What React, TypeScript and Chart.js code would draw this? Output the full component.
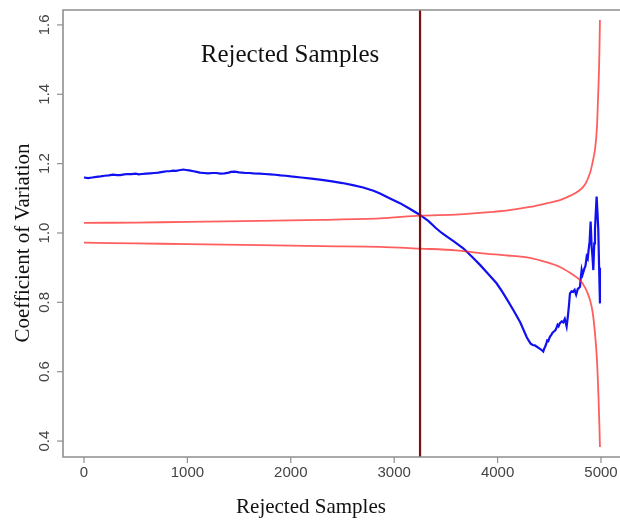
import React, { useEffect, useRef } from "react";
import { Chart, registerables } from "chart.js";

Chart.register(...registerables);

// ---- data ----
const blueX = [0, 40, 80, 120, 160, 200, 240, 280, 320, 350, 390, 420, 460, 500, 530, 560, 600, 640, 680, 720, 760, 800, 830, 860, 890, 920, 960, 1000, 1030, 1060, 1090, 1120, 1160, 1200, 1240, 1280, 1320, 1360, 1400, 1420, 1460, 1500, 1530, 1560, 1600, 1640, 1700, 1750, 1800, 1850, 1900, 1950, 2000, 2100, 2200, 2300, 2400, 2500, 2600, 2700, 2800, 2863, 2950, 3056, 3150, 3250, 3330, 3400, 3460, 3507, 3580, 3668, 3750, 3830, 3910, 3990, 4040, 4088, 4152, 4220, 4281, 4300, 4320, 4340, 4360, 4380, 4400, 4420, 4442, 4450, 4460, 4470, 4480, 4490, 4507, 4520, 4530, 4545, 4560, 4570, 4580, 4590, 4603, 4620, 4635, 4650, 4668, 4680, 4690, 4700, 4715, 4730, 4745, 4760, 4775, 4797, 4805, 4813, 4822, 4830, 4840, 4850, 4862, 4872, 4880, 4890, 4900, 4910, 4918, 4926, 4935, 4942, 4950, 4958, 4966, 4974, 4982, 4990];
const blueY = [1.160, 1.158, 1.160, 1.162, 1.163, 1.165, 1.166, 1.168, 1.167, 1.167, 1.169, 1.170, 1.170, 1.171, 1.169, 1.170, 1.171, 1.172, 1.173, 1.174, 1.176, 1.178, 1.178, 1.180, 1.179, 1.181, 1.183, 1.181, 1.180, 1.178, 1.176, 1.174, 1.173, 1.172, 1.173, 1.173, 1.171, 1.172, 1.174, 1.176, 1.177, 1.175, 1.174, 1.173, 1.173, 1.172, 1.171, 1.170, 1.169, 1.168, 1.166, 1.165, 1.163, 1.160, 1.157, 1.153, 1.149, 1.144, 1.138, 1.131, 1.122, 1.114, 1.101, 1.086, 1.070, 1.052, 1.035, 1.015, 1.000, 0.990, 0.975, 0.956, 0.932, 0.908, 0.882, 0.855, 0.833, 0.810, 0.778, 0.742, 0.700, 0.690, 0.681, 0.677, 0.676, 0.672, 0.668, 0.664, 0.658, 0.666, 0.672, 0.680, 0.690, 0.688, 0.701, 0.706, 0.712, 0.716, 0.720, 0.727, 0.735, 0.731, 0.740, 0.745, 0.742, 0.752, 0.730, 0.760, 0.790, 0.826, 0.832, 0.830, 0.836, 0.822, 0.838, 0.845, 0.872, 0.893, 0.880, 0.888, 0.898, 0.905, 0.932, 0.926, 0.950, 0.975, 1.033, 0.960, 0.930, 0.893, 0.970, 1.009, 1.060, 1.105, 1.060, 1.009, 0.900, 0.797];

const bandX = [0, 500, 1000, 1700, 2300, 2863, 3250, 3600, 3830, 4100, 4313, 4480, 4603, 4700, 4797, 4850, 4894, 4920, 4942, 4960, 4971, 4980, 4986, 4990];
const upperY = [1.029, 1.030, 1.032, 1.035, 1.038, 1.042, 1.050, 1.053, 1.058, 1.065, 1.075, 1.086, 1.095, 1.107, 1.124, 1.142, 1.173, 1.205, 1.240, 1.300, 1.384, 1.460, 1.540, 1.614];
const lowerY = [0.972, 0.970, 0.968, 0.965, 0.962, 0.960, 0.955, 0.950, 0.942, 0.935, 0.928, 0.915, 0.902, 0.885, 0.864, 0.840, 0.807, 0.770, 0.711, 0.640, 0.567, 0.490, 0.430, 0.383];

const rejectX = 3250;
const xTicks = [0, 1000, 2000, 3000, 4000, 5000];
const yTicks = [0.4, 0.6, 0.8, 1.0, 1.2, 1.4, 1.6];
const xTickLabels = ["0", "1000", "2000", "3000", "4000", "5000"];
const yTickLabels = ["0.4", "0.6", "0.8", "1.0", "1.2", "1.4", "1.6"];
const xTitle = "Rejected Samples";
const yTitle = "Coefficient of Variation";
const annotationText = "Rejected Samples";

const zip = (xs: number[], ys: number[]) => xs.map((x, i) => ({ x, y: ys[i] }));

const decorPlugin = {
  id: "decor",
  afterDatasetsDraw(chart: any) {
    const { ctx, chartArea: a, scales } = chart;
    const xs = scales.x;
    const ys = scales.y;
    ctx.save();
    // vertical rejection line
    const lx = xs.getPixelForValue(rejectX);
    ctx.strokeStyle = "#7a0f0f";
    ctx.lineWidth = 2.2;
    ctx.beginPath();
    ctx.moveTo(lx, a.top);
    ctx.lineTo(lx, a.bottom);
    ctx.stroke();

    // box
    ctx.strokeStyle = "#8f8f8f";
    ctx.lineWidth = 1.6;
    ctx.beginPath();
    ctx.moveTo(a.right + 2, a.top);
    ctx.lineTo(a.left, a.top);
    ctx.lineTo(a.left, a.bottom);
    ctx.lineTo(a.right + 2, a.bottom);
    ctx.stroke();

    // y ticks
    ctx.fillStyle = "#444";
    ctx.font = "15px 'Liberation Sans', Arial, sans-serif";
    ctx.lineWidth = 1.2;
    yTicks.forEach((v, i) => {
      const py = ys.getPixelForValue(v);
      ctx.beginPath();
      ctx.moveTo(a.left - 6, py);
      ctx.lineTo(a.left, py);
      ctx.stroke();
      ctx.save();
      ctx.translate(45, py);
      ctx.rotate(-Math.PI / 2);
      ctx.textAlign = "center";
      ctx.textBaseline = "middle";
      ctx.fillText(yTickLabels[i], 0, 0);
      ctx.restore();
    });
    // x ticks
    xTicks.forEach((v, i) => {
      const px = xs.getPixelForValue(v);
      ctx.beginPath();
      ctx.moveTo(px, a.bottom);
      ctx.lineTo(px, a.bottom + 6);
      ctx.stroke();
      ctx.textAlign = "center";
      ctx.textBaseline = "middle";
      ctx.fillText(xTickLabels[i], px, a.bottom + 16);
    });

    // titles
    ctx.fillStyle = "#111";
    ctx.font = "21px 'Liberation Serif', 'Times New Roman', serif";
    ctx.textAlign = "center";
    ctx.textBaseline = "middle";
    ctx.fillText(xTitle, 311, 507);
    ctx.save();
    ctx.translate(23, 243);
    ctx.rotate(-Math.PI / 2);
    ctx.fillText(yTitle, 0, 0);
    ctx.restore();

    ctx.font = "25px 'Liberation Serif', 'Times New Roman', serif";
    ctx.textBaseline = "alphabetic";
    ctx.fillText(annotationText, 290, 62);
    ctx.restore();
  },
};

export default function App() {
  const ref = useRef<HTMLCanvasElement | null>(null);
  useEffect(() => {
    if (!ref.current) return;
    const chart = new Chart(ref.current, {
      type: "line",
      data: {
        datasets: [
          {
            label: "upper",
            data: zip(bandX, upperY),
            borderColor: "rgba(255,40,40,0.75)",
            borderWidth: 1.8,
            pointRadius: 0,
            tension: 0.3,
          },
          {
            label: "lower",
            data: zip(bandX, lowerY),
            borderColor: "rgba(255,40,40,0.75)",
            borderWidth: 1.8,
            pointRadius: 0,
            tension: 0.3,
          },
          {
            label: "cv",
            data: zip(blueX, blueY),
            borderColor: "#1010f0",
            borderWidth: 2.2,
            pointRadius: 0,
            tension: 0,
          },
        ],
      },
      options: {
        animation: false,
        responsive: false,
        layout: { padding: { left: 63, right: 0, top: 10, bottom: 66 } },
        plugins: { legend: { display: false }, tooltip: { enabled: false } },
        scales: {
          x: { type: "linear", min: -203, max: 5184, display: false },
          y: { type: "linear", min: 0.354, max: 1.643, display: false },
        },
      },
      plugins: [decorPlugin],
    });
    return () => chart.destroy();
  }, []);
  return (
    <div style={{ position: "fixed", left: 0, top: 0, width: 620, height: 523, background: "#fff" }}>
      <canvas ref={ref} width={620} height={523} style={{ display: "block" }} />
    </div>
  );
}
